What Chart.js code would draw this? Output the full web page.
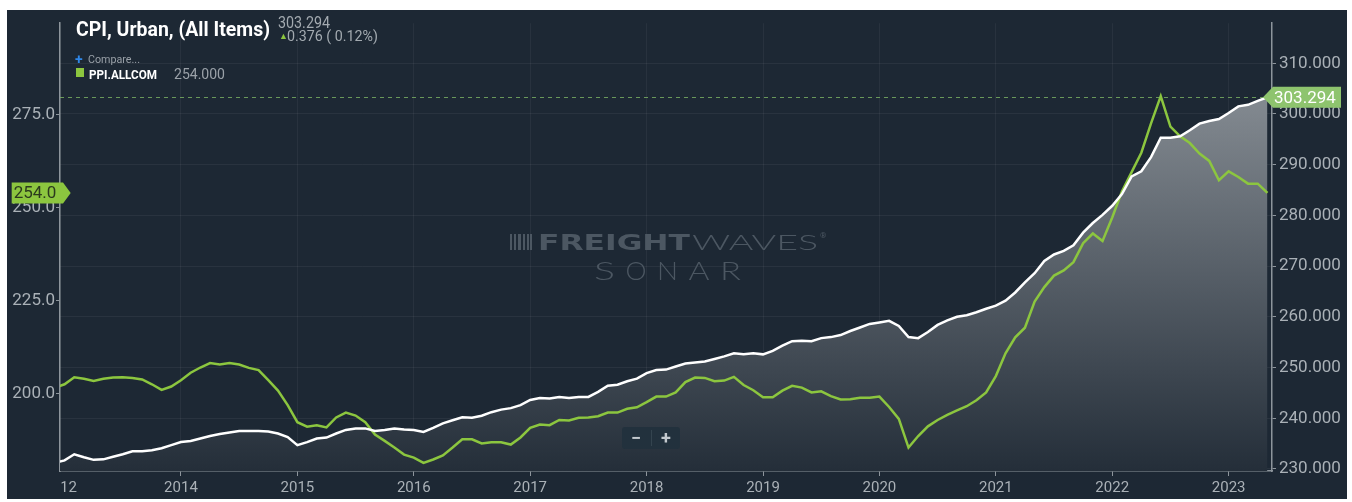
<!DOCTYPE html>
<html>
<head>
<meta charset="utf-8">
<title>CPI, Urban vs PPI.ALLCOM</title>
<script src="https://cdn.jsdelivr.net/npm/chart.js@4.4.0/dist/chart.umd.min.js"></script>
<style>
body { margin: 0; background: #fff; width: 1352px; height: 502px; overflow: hidden; position: relative; font-family: Roboto, sans-serif; }
#panel { position: absolute; left: 7px; top: 10px; width: 1340px; height: 489px; background: #1d2834; }
#myChart { position: absolute; left: 0; top: 0; }
.t { position: absolute; white-space: nowrap; line-height: 1; transform-origin: 0 0; display: inline-block; }
.zoomBox { position: absolute; left: 622px; top: 427px; width: 58px; height: 22px; background: #22313d; border-radius: 3px; }
.zoomBox span { position: absolute; top: 1px; width: 28px; text-align: center; color: #c3c9ce; font: bold 18px Roboto, sans-serif; line-height: 20px; }
.zoomBox i { position: absolute; left: 29px; top: 3px; width: 1px; height: 16px; background: #34444f; }
</style>
</head>
<body>
<div id="panel"><canvas id="myChart" width="1340" height="489"></canvas></div>

<span class="t" data-w="194" style="left:76px;top:16.6px;font:bold 21px Roboto;color:#fff">CPI, Urban, (All Items)</span>
<span class="t" data-w="52" style="left:278px;top:13px;font:16px Roboto;color:#a3aab0">303.294</span>
<span class="t" style="left:279px;top:31px;font:9px Roboto;color:#8cc63f">&#9650;</span>
<span class="t" data-w="91" style="left:287px;top:27.4px;font:15px Roboto;color:#a3aab0">0.376 ( 0.12%)</span>
<span class="t" style="left:75px;top:51px;font:bold 14px Roboto;color:#2f87e8">+</span>
<span class="t" data-w="52" style="left:88px;top:53px;font:11px Roboto;color:#9aa1a8">Compare...</span>
<span class="t" style="left:76px;top:68px;width:8px;height:9px;background:#8cc63f"></span>
<span class="t" data-w="68" style="left:89px;top:66.8px;font:bold 13px Roboto;color:#fff">PPI.ALLCOM</span>
<span class="t" data-w="51" style="left:174px;top:65.9px;font:14px Roboto;color:#9aa1a8">254.000</span>

<div class="zoomBox"><span style="left:0">&minus;</span><i></i><span style="left:30px">+</span></div>

<script>
// CPI, Urban (All Items), monthly, Dec 2012 - May 2023 (right axis)
var cpi = [231.2,
    231.7, 232.9, 232.3, 231.8, 231.9, 232.4, 232.9, 233.5, 233.5, 233.7, 234.1, 234.7,
    235.3, 235.5, 236.0, 236.5, 236.9, 237.2, 237.5, 237.5, 237.5, 237.4, 237.0, 236.3,
    234.7, 235.3, 236.0, 236.2, 237.0, 237.7, 238.0, 238.0, 237.5, 237.7, 238.0, 237.8,
    237.7, 237.3, 238.1, 239.0, 239.6, 240.2, 240.1, 240.5, 241.2, 241.7, 242.0, 242.6,
    243.6, 244.0, 243.9, 244.2, 244.0, 244.2, 244.2, 245.2, 246.4, 246.6, 247.3, 247.8,
    248.9, 249.5, 249.6, 250.2, 250.8, 251.0, 251.2, 251.7, 252.2, 252.8, 252.6, 252.8,
    252.6, 253.3, 254.3, 255.2, 255.3, 255.2, 255.8, 256.0, 256.4, 257.2, 257.9, 258.6,
    258.9, 259.2, 258.2, 256.0, 255.8, 257.0, 258.4, 259.3, 260.0, 260.3, 260.9, 261.6,
    262.2, 263.2, 264.8, 266.8, 268.6, 271.0, 272.3, 273.0, 274.1, 276.6, 278.5, 280.1,
    281.9, 284.2, 287.7, 288.7, 291.5, 295.3, 295.3, 295.6, 296.8, 298.1, 298.6, 299.0,
    300.2, 301.5, 301.8, 302.6, 303.294];

// PPI.ALLCOM, monthly, Dec 2012 - May 2023 (left axis)
var ppi = [201.7,
    202.6, 204.5, 204.1, 203.5, 204.1, 204.4, 204.5, 204.3, 203.9, 202.6, 201.1, 202.0,
    203.7, 205.7, 207.1, 208.3, 207.9, 208.3, 207.9, 207.0, 206.4, 203.7, 200.9, 197.0,
    192.4, 191.2, 191.6, 191.0, 193.7, 195.0, 194.2, 192.4, 189.1, 187.4, 185.6, 183.7,
    182.9, 181.5, 182.4, 183.5, 185.6, 187.8, 187.8, 186.7, 187.0, 187.0, 186.4, 188.3,
    190.9, 191.8, 191.6, 193.0, 192.9, 193.6, 193.7, 194.0, 195.0, 195.0, 196.0, 196.4,
    197.8, 199.3, 199.3, 200.4, 203.2, 204.4, 204.3, 203.4, 203.6, 204.6, 202.4, 201.0,
    199.1, 199.1, 200.9, 202.2, 201.7, 200.4, 200.7, 199.4, 198.5, 198.6, 199.0, 199.0,
    199.3, 196.5, 193.3, 185.6, 188.7, 191.3, 193.0, 194.4, 195.6, 196.7, 198.3, 200.4,
    204.8, 210.9, 215.2, 217.8, 224.8, 228.7, 231.8, 233.2, 235.4, 240.5, 243.1, 241.1,
    247.4, 254.4, 259.6, 264.8, 272.7, 280.0, 271.8, 269.2, 267.4, 264.6, 262.6, 257.4,
    259.8, 258.3, 256.5, 256.5, 254.0];

var yearLabels = ['2012', '2014', '2015', '2016', '2017', '2018', '2019', '2020', '2021', '2022', '2023'];
var leftTicks = [200, 225, 250, 275];
var rightTicks = [230, 240, 250, 260, 270, 280, 290, 300, 310];

// month labels, Dec 2012 onwards
var months = [];
for (var k = 0; k < cpi.length; k++) {
    var m = 11 + k;
    months.push((2012 + Math.floor(m / 12)) + '-' + String(m % 12 + 1).padStart(2, '0'));
}

function monthIndex(label) {
    var p = label.split('-');
    return (parseInt(p[0]) - 2013) * 12 + parseInt(p[1]) - 1;
}

var xMin = -0.47, xMax = 124.47;
var axisGray = '#8d959c';
var labelGray = '#aab1b7';
var bg = '#1d2834';

var xTicks = yearLabels.map(function(y, i) {
    return { value: i == 0 ? xMin : (parseInt(y) - 2013) * 12, label: y };
});

function fitText(ctx, text, x, y, w) {
    var mw = ctx.measureText(text).width;
    ctx.save();
    ctx.translate(x, y);
    ctx.scale(w / mw, 1);
    ctx.fillText(text, 0, 0);
    ctx.restore();
}

var watermark = {
    id: 'watermark',
    beforeDatasetsDraw: function(chart) {
        var ctx = chart.ctx;
        ctx.save();
        ctx.fillStyle = '#4c5762';
        // little bars logo
        var bars = [[503, 2], [507, 2], [511, 3], [516, 2], [520, 2], [523, 2]];
        bars.forEach(function(b) { ctx.fillRect(b[0], 224, b[1], 16); });
        ctx.textBaseline = 'alphabetic';
        ctx.textAlign = 'left';
        ctx.font = 'bold 22px "DejaVu Sans"';
        fitText(ctx, 'FREIGHT', 531, 240, 152);
        ctx.font = '300 22px Lato, "Open Sans"';
        fitText(ctx, 'WAVES', 685, 240, 126);
        ctx.font = '8px Roboto';
        ctx.fillText('®', 813, 228);
        ctx.font = '300 25px Lato, "Open Sans"';
        var s = 'SONAR';
        for (var i = 0; i < s.length; i++) {
            fitText(ctx, s[i], 587 + i * 31.5, 270, 21);
        }
        ctx.restore();
    }
};

var tags = {
    id: 'tags',
    afterDraw: function(chart) {
        var ctx = chart.ctx, area = chart.chartArea;
        var last = cpi.length - 1;
        var yR = chart.scales.yRight.getPixelForValue(cpi[last]);
        var xLast = chart.scales.x.getPixelForValue(monthIndex(months[last]));
        ctx.save();
        // cover the left part of the first year label
        ctx.fillStyle = bg;
        ctx.fillRect(0, area.bottom + 1, area.left + 1.5, 40);

        ctx.strokeStyle = 'rgba(125,180,100,0.8)';
        ctx.lineWidth = 1;
        ctx.setLineDash([4, 4]);
        ctx.beginPath();
        ctx.moveTo(area.left, Math.round(yR) + 0.5);
        ctx.lineTo(xLast - 4, Math.round(yR) + 0.5);
        ctx.stroke();
        ctx.setLineDash([]);

        var h = 21, tip = area.right - 9, bx = area.right + 1, bw = 68;
        ctx.fillStyle = '#8ec46e';
        ctx.beginPath();
        ctx.moveTo(tip, yR);
        ctx.lineTo(bx, yR - h / 2);
        ctx.lineTo(bx + bw, yR - h / 2);
        ctx.lineTo(bx + bw, yR + h / 2);
        ctx.lineTo(bx, yR + h / 2);
        ctx.closePath();
        ctx.fill();
        ctx.fillStyle = '#ffffff';
        ctx.font = '17px Roboto';
        ctx.textBaseline = 'middle';
        ctx.textAlign = 'left';
        ctx.fillText(cpi[last].toFixed(3), bx + 1, yR + 1);

        var yL = chart.scales.yLeft.getPixelForValue(ppi[last]);
        var lx = 4.7, lw = 51.3, ltip = area.left + 10.7;
        ctx.fillStyle = '#8cc63f';
        ctx.beginPath();
        ctx.moveTo(lx, yL - h / 2);
        ctx.lineTo(lx + lw, yL - h / 2);
        ctx.lineTo(ltip, yL);
        ctx.lineTo(lx + lw, yL + h / 2);
        ctx.lineTo(lx, yL + h / 2);
        ctx.closePath();
        ctx.fill();
        ctx.fillStyle = '#2b3a1e';
        ctx.font = '17px Roboto';
        ctx.fillText(ppi[last].toFixed(1), lx + 2, yL + 1);
        ctx.restore();
    }
};

var ctx = document.getElementById('myChart');
var myChart = new Chart(ctx, {
    type: 'line',
    data: {
        datasets: [{
            label: 'CPI, Urban, (All Items)',
            data: months.map(function(m, i) { return { x: monthIndex(m), y: cpi[i] }; }),
            yAxisID: 'yRight',
            borderColor: '#ffffff',
            borderWidth: 2.5,
            pointRadius: 0,
            tension: 0,
            fill: 'start',
            backgroundColor: function(context) {
                var area = context.chart.chartArea;
                if (!area) return 'rgba(0,0,0,0)';
                var g = context.chart.ctx.createLinearGradient(0, area.top, 0, area.bottom);
                g.addColorStop(0, 'rgb(150,156,162)');
                g.addColorStop(1, 'rgb(36,46,57)');
                return g;
            }
        }, {
            label: 'PPI.ALLCOM',
            data: months.map(function(m, i) { return { x: monthIndex(m), y: ppi[i] }; }),
            yAxisID: 'yLeft',
            borderColor: '#8cc63f',
            borderWidth: 2.5,
            pointRadius: 0,
            tension: 0,
            fill: false
        }]
    },
    options: {
        responsive: false,
        animation: false,
        devicePixelRatio: 1,
        layout: { padding: 0 },
        plugins: {
            legend: { display: false },
            tooltip: { enabled: false },
            filler: { drawTime: 'beforeDatasetsDraw' }
        },
        scales: {
            x: {
                type: 'linear',
                min: xMin,
                max: xMax,
                afterBuildTicks: function(scale) {
                    scale.ticks = xTicks.map(function(t) { return { value: t.value }; });
                },
                afterFit: function(scale) { scale.height = 28; },
                ticks: {
                    autoSkip: false,
                    maxRotation: 0,
                    padding: 3,
                    color: labelGray,
                    font: { family: 'Roboto', size: 15 },
                    callback: function(value, index) { return xTicks[index].label; }
                },
                grid: { color: 'rgba(255,255,255,0.05)', tickColor: axisGray, tickLength: 5 },
                border: { color: axisGray, width: 1.5 }
            },
            yLeft: {
                type: 'linear',
                position: 'left',
                min: 179.3,
                max: 299.6,
                afterBuildTicks: function(scale) {
                    scale.ticks = leftTicks.map(function(v) { return { value: v }; });
                },
                afterFit: function(scale) { scale.width = 53; },
                ticks: {
                    padding: 1,
                    color: labelGray,
                    font: { family: 'Roboto', size: 17 },
                    callback: function(v) { return v.toFixed(1); }
                },
                grid: { drawOnChartArea: false, tickColor: axisGray, tickLength: 4 },
                border: { color: axisGray, width: 1.5 }
            },
            yRight: {
                type: 'linear',
                position: 'right',
                min: 229.6,
                max: 317.9,
                afterBuildTicks: function(scale) {
                    scale.ticks = rightTicks.map(function(v) { return { value: v }; });
                },
                afterFit: function(scale) { scale.width = 75; },
                ticks: {
                    padding: 3,
                    color: labelGray,
                    font: { family: 'Roboto', size: 17 },
                    callback: function(v) { return v.toFixed(3); }
                },
                grid: { color: 'rgba(255,255,255,0.055)', tickColor: axisGray, tickLength: 4 },
                border: { color: axisGray, width: 1.5 }
            }
        }
    },
    plugins: [watermark, tags]
});

// squeeze header texts to the widths seen in the original
document.querySelectorAll('.t[data-w]').forEach(function(el) {
    var w = el.getBoundingClientRect().width;
    el.style.transform = 'scaleX(' + (parseFloat(el.getAttribute('data-w')) / w) + ')';
});
</script>
</body>
</html>
